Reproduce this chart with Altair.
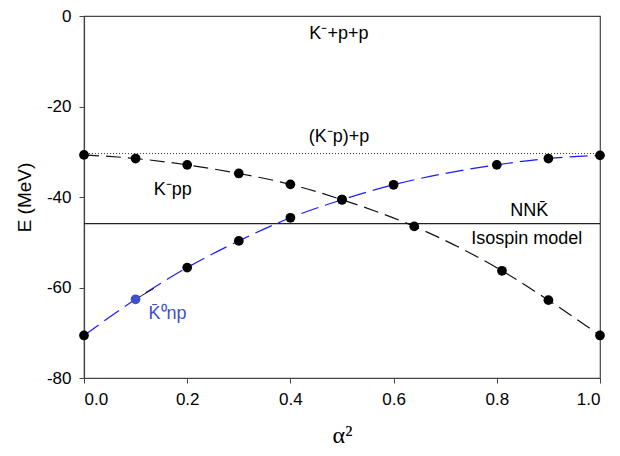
import altair as alt
import pandas as pd

# K^- pp curve (black dashed)
kpp_x = [0.0, 0.1, 0.2, 0.3, 0.4, 0.5, 0.64, 0.81, 0.9, 1.0]
kpp_e = [-30.7, -31.5, -32.9, -34.8, -37.2, -40.6, -46.5, -56.3, -62.8, -70.6]
# K0bar np curve (blue dashed)
k0np_x = [0.0, 0.1, 0.2, 0.3, 0.4, 0.5, 0.6, 0.8, 0.9, 1.0]
k0np_e = [-70.6, -62.6, -55.6, -49.7, -44.6, -40.6, -37.3, -32.9, -31.5, -30.8]
# horizontal reference levels
threshold_kp = [-30.4]
isospin_level = [-45.9]
# short leader from the blue point
leader_x = [0.1, 0.1355]
leader_e = [-62.6, -60.2]
# annotations
label_text = ["K⁻+p+p", "(K⁻p)+p", "K⁻pp", "NNK̄", "Isospin model", "K̄⁰np"]
label_x = [0.494, 0.494, 0.172, 0.863, 0.858, 0.162]
label_y = [-3.9, -26.7, -38.5, -43.1, -49.3, -65.9]
label_group = ["k", "k", "k", "k", "k", "b"]

kpp = pd.DataFrame({"x": kpp_x, "e": kpp_e, "c": ["k"] * len(kpp_x)})
k0 = pd.DataFrame({"x": k0np_x, "e": k0np_e,
                   "c": ["b" if v == 0.1 else "k" for v in k0np_x]})
pts = pd.concat([kpp, k0], ignore_index=True)
labels = pd.DataFrame({"t": label_text, "x": label_x, "y": label_y, "c": label_group})
leader = pd.DataFrame({"x": leader_x, "e": leader_e})

xs = alt.Scale(domain=[0, 1], nice=False, zero=False)
ys = alt.Scale(domain=[-80, 0], nice=False, zero=False)

xax = alt.Axis(values=[0, 0.2, 0.4, 0.6, 0.8, 1.0], format=".1f", title="α²",
               grid=False, tickSize=5, labelPadding=8, titlePadding=16,
               titleFont="Liberation Serif", titleFontSize=24, titleFontWeight="normal")
yax = alt.Axis(values=[0, -20, -40, -60, -80], labelExpr="'' + datum.value", title="E (MeV)",
               grid=False, tickSize=5, labelPadding=8, titlePadding=12,
               titleFontSize=19, titleFontWeight="normal")

X = alt.X("x:Q", scale=xs, axis=xax)
Y = alt.Y("e:Q", scale=ys, axis=yax)

dotted = alt.Chart(pd.DataFrame({"e": threshold_kp})).mark_rule(
    color="#333333", strokeDash=[1, 2], strokeWidth=1).encode(y=Y)
solid = alt.Chart(pd.DataFrame({"e": isospin_level})).mark_rule(
    color="#222222", strokeWidth=1.2).encode(y=Y)

line_k = alt.Chart(kpp).mark_line(color="#111111", strokeDash=[15, 7], strokeWidth=1.2,
                                   interpolate="monotone").encode(x=X, y=Y)
line_b = alt.Chart(k0).mark_line(color="#1a1aff", strokeDash=[18, 7], strokeWidth=1.2,
                                  interpolate="monotone").encode(x=X, y=Y)
lead = alt.Chart(leader).mark_line(color="#111111", strokeWidth=1).encode(x=X, y=Y)

dots = alt.Chart(pts).mark_point(filled=True, size=95, opacity=1, shape="circle").encode(
    x=X, y=Y,
    color=alt.Color("c:N", scale=alt.Scale(domain=["k", "b"], range=["#000000", "#4050cc"]),
                    legend=None))

text = alt.Chart(labels).mark_text(fontSize=18, font="Liberation Sans").encode(
    x=alt.X("x:Q", scale=xs, axis=xax), y=alt.Y("y:Q", scale=ys, axis=yax), text="t:N",
    color=alt.Color("c:N", scale=alt.Scale(domain=["k", "b"], range=["#000000", "#4a5ad0"]),
                    legend=None))

chart = alt.layer(dotted, solid, line_k, line_b, lead, dots, text).properties(
    width=516, height=362,
    autosize=alt.AutoSizeParams(type="none"),
    padding={"left": 76, "top": 8, "right": 12, "bottom": 70},
).configure_view(stroke="#444444", strokeWidth=1.2).configure_axis(
    domainColor="#444444", tickColor="#444444", labelColor="#000000",
    labelFont="Liberation Sans", titleFont="Liberation Sans", labelFontSize=17,
    titleColor="#000000", domainWidth=1.2,
)

chart.save("out.html", embed_options={"renderer": "svg", "actions": False})
